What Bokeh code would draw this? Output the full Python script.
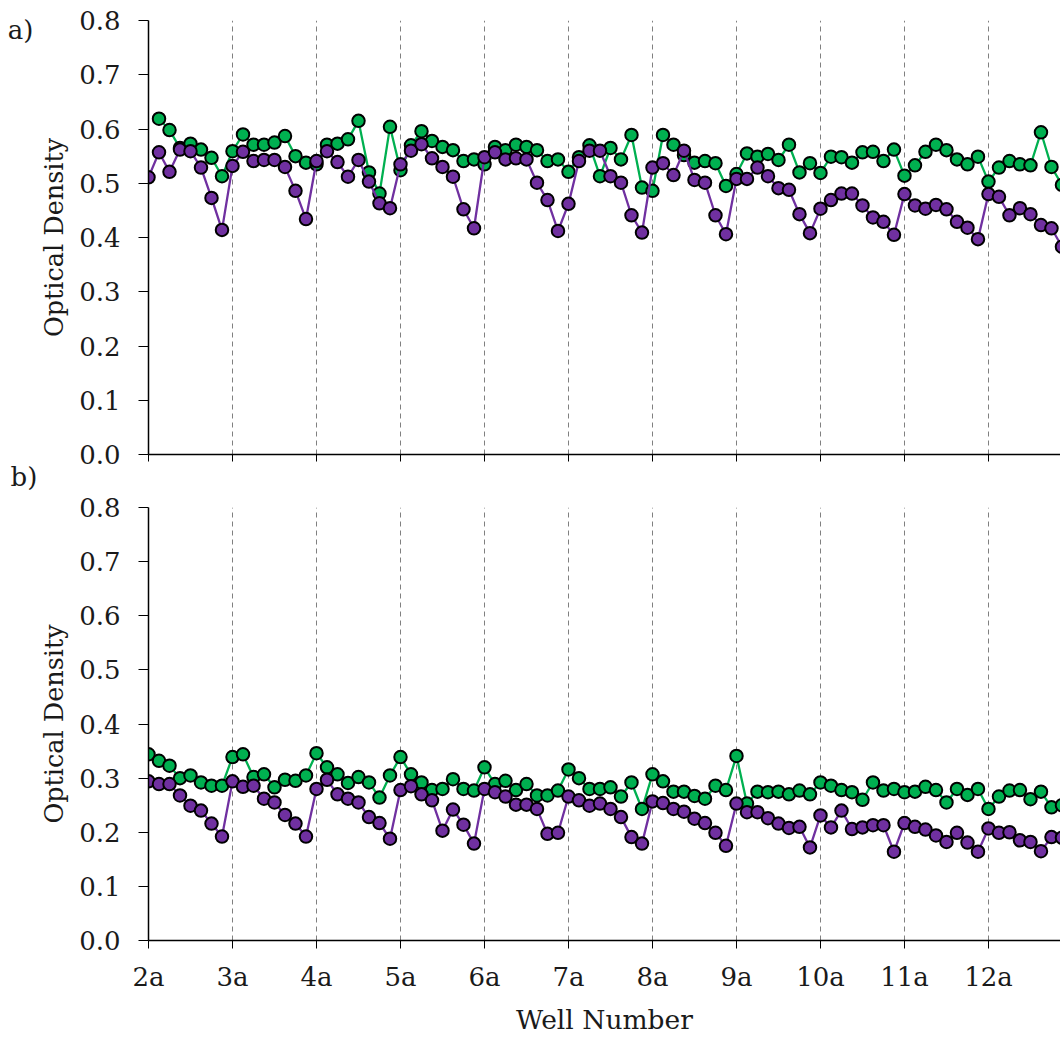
from bokeh.plotting import figure
from bokeh.layouts import column
from bokeh.models import Range1d, FixedTicker, NumeralTickFormatter, LinearAxis, Title
from bokeh.embed import file_html
from bokeh.resources import INLINE

nan = float("nan")

# Well order: 2a..2h, 3a..3h, ..., 12a..12h
columns = list(range(2, 13))
rows = list("abcdefgh")
wells = [f"{c}{r}" for c in columns for r in rows]
tick_labels = ["2a", "3a", "4a", "5a", "6a", "7a", "8a", "9a", "10a", "11a", "12a"]
panel_letters = ["a)", "b)"]

a_green = [
    nan, 0.619, 0.598, 0.565, 0.573, 0.562, 0.547, 0.513,
    0.559, 0.590, 0.571, 0.571, 0.575, 0.587, 0.550, 0.538,
    0.535, 0.571, 0.573, 0.581, 0.615, 0.520, 0.481, 0.604,
    0.524, 0.570, 0.596, 0.578, 0.567, 0.561, 0.541, 0.544,
    0.535, 0.567, 0.561, 0.571, 0.567, 0.561, 0.541, 0.544,
    0.521, 0.548, 0.570, 0.513, 0.565, 0.544, 0.589, 0.492,
    0.486, 0.589, 0.571, 0.552, 0.538, 0.541, 0.537, 0.495,
    0.517, 0.555, 0.549, 0.554, 0.543, 0.571, 0.520, 0.537,
    0.519, 0.549, 0.548, 0.538, 0.557, 0.558, 0.541, 0.562,
    0.514, 0.533, 0.558, 0.571, 0.561, 0.544, 0.535, 0.549,
    0.503, 0.529, 0.541, 0.535, 0.533, 0.594, 0.530, 0.497,
]
a_purple = [
    0.511, 0.557, 0.521, 0.562, 0.559, 0.529, 0.473, 0.414,
    0.532, 0.558, 0.541, 0.543, 0.543, 0.530, 0.486, 0.434,
    0.541, 0.559, 0.539, 0.512, 0.543, 0.503, 0.463, 0.454,
    0.535, 0.560, 0.572, 0.546, 0.530, 0.512, 0.452, 0.417,
    0.548, 0.557, 0.544, 0.546, 0.544, 0.501, 0.469, 0.412,
    0.462, 0.541, 0.560, 0.560, 0.513, 0.501, 0.441, 0.409,
    0.529, 0.537, 0.515, 0.560, 0.506, 0.501, 0.441, 0.406,
    0.508, 0.508, 0.529, 0.513, 0.491, 0.488, 0.443, 0.408,
    0.453, 0.469, 0.481, 0.481, 0.459, 0.437, 0.429, 0.405,
    0.480, 0.459, 0.453, 0.460, 0.452, 0.429, 0.418, 0.397,
    0.480, 0.475, 0.441, 0.454, 0.443, 0.423, 0.417, 0.383,
]
b_green = [
    0.344, 0.332, 0.323, 0.300, 0.305, 0.292, 0.286, 0.286,
    0.339, 0.344, 0.302, 0.307, 0.283, 0.297, 0.295, 0.305,
    0.346, 0.320, 0.307, 0.291, 0.302, 0.292, 0.264, 0.305,
    0.339, 0.307, 0.292, 0.278, 0.280, 0.298, 0.280, 0.277,
    0.320, 0.289, 0.295, 0.278, 0.289, 0.268, 0.268, 0.277,
    0.316, 0.300, 0.280, 0.280, 0.283, 0.266, 0.292, 0.243,
    0.307, 0.294, 0.275, 0.275, 0.267, 0.262, 0.286, 0.278,
    0.341, 0.253, 0.275, 0.274, 0.275, 0.270, 0.277, 0.270,
    0.292, 0.286, 0.278, 0.274, 0.260, 0.292, 0.277, 0.280,
    0.274, 0.275, 0.284, 0.278, 0.255, 0.280, 0.269, 0.280,
    0.243, 0.266, 0.277, 0.278, 0.261, 0.275, 0.246, 0.250,
]
b_purple = [
    0.294, 0.289, 0.289, 0.268, 0.249, 0.240, 0.216, 0.192,
    0.294, 0.284, 0.286, 0.262, 0.255, 0.232, 0.216, 0.192,
    0.280, 0.297, 0.270, 0.262, 0.255, 0.228, 0.217, 0.188,
    0.278, 0.285, 0.270, 0.259, 0.203, 0.242, 0.214, 0.179,
    0.280, 0.274, 0.266, 0.251, 0.251, 0.243, 0.197, 0.199,
    0.266, 0.259, 0.249, 0.253, 0.243, 0.228, 0.191, 0.179,
    0.257, 0.254, 0.243, 0.238, 0.225, 0.217, 0.199, 0.175,
    0.253, 0.237, 0.237, 0.226, 0.216, 0.208, 0.210, 0.172,
    0.231, 0.209, 0.240, 0.206, 0.209, 0.213, 0.213, 0.164,
    0.217, 0.210, 0.205, 0.194, 0.182, 0.199, 0.181, 0.164,
    0.207, 0.199, 0.200, 0.185, 0.182, 0.165, 0.191, 0.190,
]
y_ticks = [0.0, 0.1, 0.2, 0.3, 0.4, 0.5, 0.6, 0.7, 0.8]

GREEN = "#00B050"
PURPLE = "#7030A0"
FONT = "DejaVu Serif"
TXT = "#1a1a1a"

x_idx = list(range(len(wells)))
tick_pos = [wells.index(t) for t in tick_labels]
grid_pos = tick_pos[1:]


def make_panel(green, purple, show_x, height, top, bottom):
    p = figure(width=1060, height=height,
               x_range=Range1d(0, 86.86), y_range=Range1d(0, 0.8),
               output_backend="svg", toolbar_location=None,
               min_border_left=148, min_border_right=0,
               min_border_top=top, min_border_bottom=bottom)
    p.outline_line_color = None
    p.background_fill_color = "white"
    p.border_fill_color = "white"

    p.ygrid.visible = False
    p.xgrid.ticker = FixedTicker(ticks=grid_pos)
    p.xgrid.grid_line_color = "#808080"
    p.xgrid.grid_line_dash = "5 4"
    p.xgrid.grid_line_width = 1

    xa = p.xaxis[0]
    xa.ticker = FixedTicker(ticks=tick_pos)
    xa.minor_tick_line_color = None
    xa.major_tick_in = 0
    xa.major_tick_out = 8
    xa.axis_line_color = "black"
    xa.axis_line_width = 1.5
    xa.major_tick_line_color = "black"
    xa.major_tick_line_width = 1
    if show_x:
        xa.major_label_overrides = {pos: lab for pos, lab in zip(tick_pos, tick_labels)}
        xa.major_label_text_font = FONT
        xa.major_label_text_font_size = "26px"
        xa.major_label_text_color = TXT
        xa.major_label_standoff = 13
        xa.axis_label = "Well Number"
        xa.axis_label_text_font = FONT
        xa.axis_label_text_font_size = "26.5px"
        xa.axis_label_text_font_style = "normal"
        xa.axis_label_text_color = TXT
        xa.axis_label_standoff = 9
    else:
        xa.major_label_overrides = {pos: "" for pos in tick_pos}
        xa.major_label_text_font_size = "1px"
        xa.major_label_standoff = 0
        xa.major_tick_out = 7

    ya = p.yaxis[0]
    ya.ticker = FixedTicker(ticks=y_ticks)
    ya.formatter = NumeralTickFormatter(format="0.0")
    ya.minor_tick_line_color = None
    ya.major_tick_in = 0
    ya.major_tick_out = 10
    ya.axis_line_color = "black"
    ya.axis_line_width = 1.5
    ya.major_tick_line_color = "black"
    ya.major_label_text_font = FONT
    ya.major_label_text_font_size = "26px"
    ya.major_label_text_color = TXT
    ya.major_label_standoff = 18
    ya.axis_label = "Optical Density"
    ya.axis_label_text_font = FONT
    ya.axis_label_text_font_size = "25.5px"
    ya.axis_label_text_font_style = "normal"
    ya.axis_label_text_color = TXT
    ya.axis_label_standoff = 7

    p.line(x_idx, green, line_color=GREEN, line_width=2.3)
    p.scatter(x_idx, green, size=12.5, fill_color=GREEN, line_color="black", line_width=2)
    p.line(x_idx, purple, line_color=PURPLE, line_width=2.3)
    p.scatter(x_idx, purple, size=12.5, fill_color=PURPLE, line_color="black", line_width=2)
    return p


pa = make_panel(a_green, a_purple, False, 493, 20, 38)
pb = make_panel(b_green, b_purple, True, 544, 14, 96)

# panel letter "a)": an outer, line-less left axis carrying one label
pa.extra_y_ranges = {"letter": Range1d(0, 800)}
letter_axis = LinearAxis(y_range_name="letter", ticker=FixedTicker(ticks=[782]),
                         major_label_overrides={782: panel_letters[0]},
                         axis_line_color=None, major_tick_line_color=None,
                         minor_tick_line_color=None, major_tick_in=0, major_tick_out=0,
                         major_label_standoff=3, major_label_text_font=FONT,
                         major_label_text_font_size="26px", major_label_text_color=TXT)
pa.add_layout(letter_axis, "left")

# panel letter "b)": a title below panel a, shifted to the page's left edge
pa.add_layout(Title(text=panel_letters[1], align="left", offset=-138, standoff=0,
                    vertical_align="top", text_font=FONT, text_font_size="26px",
                    text_font_style="normal", text_color=TXT), "below")

layout = column(pa, pb, spacing=0)
open("out.html", "w").write(file_html(layout, INLINE))
